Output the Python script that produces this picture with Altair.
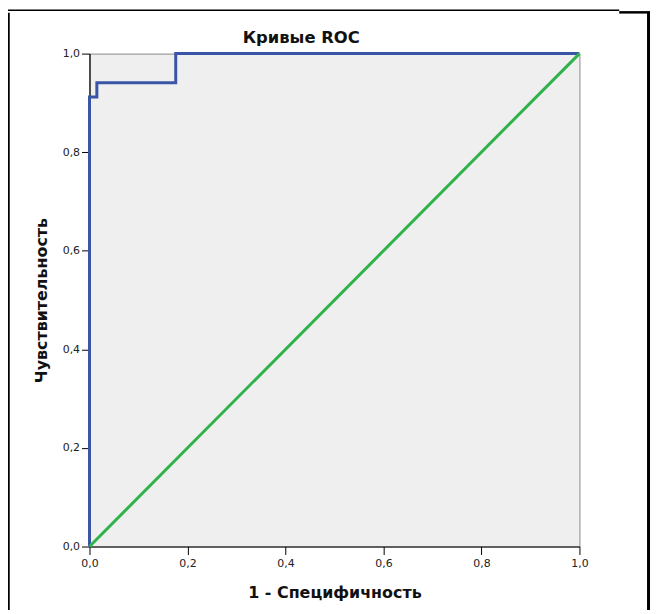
import altair as alt
import pandas as pd

# ROC curve points (1 - specificity, sensitivity)
fpr = [0.0, 0.0, 0.015, 0.015, 0.176, 0.176, 1.0]
tpr = [0.0, 0.912, 0.912, 0.941, 0.941, 1.0, 1.0]
ref_x = [0.0, 1.0]
ref_y = [0.0, 1.0]
ticks = [0.0, 0.2, 0.4, 0.6, 0.8, 1.0]
title_text = ["Кривые ROC"]

roc = pd.DataFrame({"x": fpr, "y": tpr, "o": list(range(len(fpr)))})
ref = pd.DataFrame({"x": ref_x, "y": ref_y, "o": [0, 1]})

FONT = "DejaVu Sans"
lab = "replace(format(datum.value, '.1f'), '.', ',')"

xs = alt.Scale(domain=[0, 1], nice=False, zero=False)
ys = alt.Scale(domain=[0, 1], nice=False, zero=False)

common = dict(values=ticks, labelExpr=lab, grid=False, domainColor="#000", domainWidth=1.2,
              tickColor="#000", tickSize=8, labelFont=FONT, labelFontSize=11, labelColor="#222",
              labelFlush=False, titleFont=FONT, titleFontSize=16, titleFontWeight="bold",
              titleColor="#111")
xaxis = alt.Axis(title="1 - Специфичность", labelPadding=3, titlePadding=16, **common)
yaxis = alt.Axis(title="Чувствительность", labelPadding=2, titlePadding=13, **common)

roc_line = alt.Chart(roc).mark_line(color="#3a55a6", strokeWidth=3, clip=False).encode(
    x=alt.X("x:Q", scale=xs, axis=xaxis),
    y=alt.Y("y:Q", scale=ys, axis=yaxis),
    order="o:Q",
)
ref_line = alt.Chart(ref).mark_line(color="#2fb24a", strokeWidth=3, clip=False).encode(
    x=alt.X("x:Q", scale=xs),
    y=alt.Y("y:Q", scale=ys),
    order="o:Q",
)

title_mark = alt.Chart(pd.DataFrame({"t": title_text})).mark_text(
    font=FONT, fontSize=16.5, fontWeight="bold", color="#111", align="center", baseline="middle"
).encode(x=alt.value(213), y=alt.value(-16), text="t:N")

# decorative outer frame
one = pd.DataFrame({"a": [0]})
frame_top = alt.Chart(one).mark_rule(color="#000", strokeWidth=1.5).encode(
    x=alt.value(-82), x2=alt.value(533), y=alt.value(-43.5))
frame_top2 = alt.Chart(one).mark_rule(color="#000", strokeWidth=2.5).encode(
    x=alt.value(533), x2=alt.value(564), y=alt.value(-41.5))
frame_left = alt.Chart(one).mark_rule(color="#000", strokeWidth=2.5).encode(
    x=alt.value(-81.5), y=alt.value(-41), y2=alt.value(570))
frame_right = alt.Chart(one).mark_rule(color="#000", strokeWidth=3).encode(
    x=alt.value(562.5), y=alt.value(-42), y2=alt.value(570))

chart = alt.layer(roc_line, ref_line, title_mark, frame_top, frame_top2, frame_left, frame_right).properties(
    width=493, height=496,
    background="white",
    autosize=alt.AutoSizeParams(type="none"),
    padding={"left": 82, "top": 44, "right": 73, "bottom": 62},
).configure_view(
    fill="#efefef", stroke="#8a8a8a", strokeWidth=1
)

chart.save("out.html", embed_options={"renderer": "svg", "actions": False})
